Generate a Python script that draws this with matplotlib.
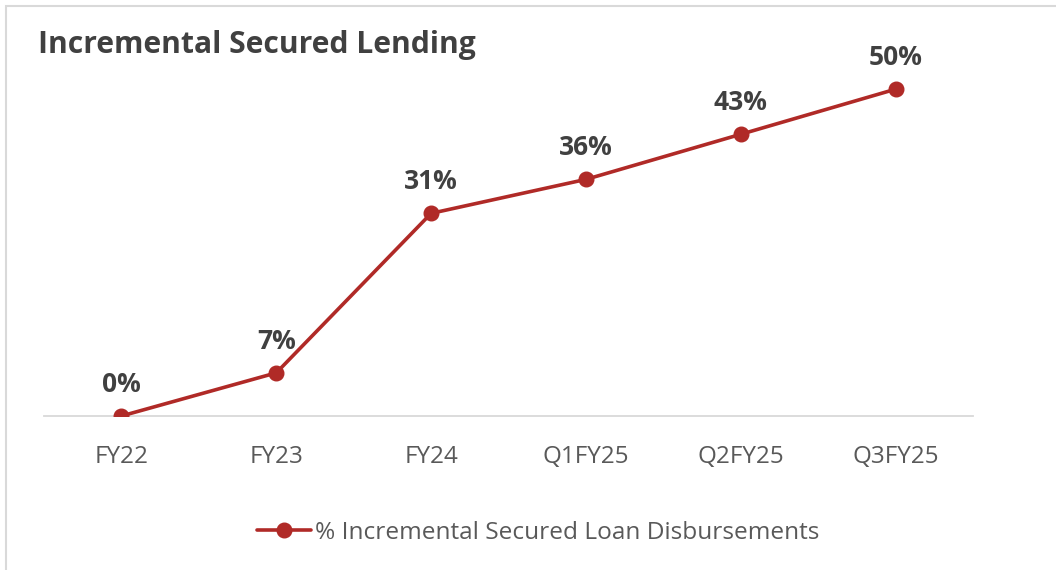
import matplotlib
matplotlib.use("Agg")
import matplotlib.pyplot as plt
from matplotlib.patches import Rectangle

# data
categories = ["FY22", "FY23", "FY24", "Q1FY25", "Q2FY25", "Q3FY25"]
secured_share = [0, 6.6, 31, 36.2, 43.1, 50]
series_name = "% Incremental Secured Loan Disbursements"
title = "Incremental Secured Lending"

RED = "#B02A27"
plt.rcParams["font.family"] = ["Open Sans", "DejaVu Sans"]

fig = plt.figure(figsize=(10.56, 5.70), dpi=100)
ax = fig.add_axes([0.0417, 0.2702, 0.8797, 0.688])

x = list(range(len(categories)))
ax.plot(x, secured_share, color=RED, lw=2.6, marker="o", ms=10.5,
        solid_capstyle="round", label=series_name, zorder=3)

for xi, v in zip(x, secured_share):
    ax.annotate(f"{v:.0f}%", (xi, v), xytext=(0, 13), textcoords="offset points",
                ha="center", va="bottom", fontsize=19, fontweight="bold",
                color="#404040")

ax.set_xlim(-0.5, len(categories) - 0.5)
ax.set_ylim(0, 60)
ax.set_xticks(x)
ax.set_xticklabels(categories, fontsize=17.5, color="#595959")
ax.tick_params(axis="x", length=0, pad=21)
ax.set_yticks([])
for side in ["top", "right", "left"]:
    ax.spines[side].set_visible(False)
ax.spines["bottom"].set_color("#D9D9D9")
ax.spines["bottom"].set_linewidth(1.3)
ax.set_facecolor("none")

fig.text(38 / 1056, 1 - 45 / 570, title, fontsize=21.6, fontweight="bold",
         color="#404040", ha="left", va="center")

leg = fig.legend(loc="center", bbox_to_anchor=(538 / 1056, 1 - 533 / 570),
                 frameon=False, fontsize=17.6, handlelength=2.2,
                 handletextpad=0.15)
for t in leg.get_texts():
    t.set_color("#595959")

# chart border (only top and left edges fall inside the crop)
fig.patches.append(Rectangle((6 / 1056, -0.1), 1.2, 1.1 - 6 / 570,
                             transform=fig.transFigure, fill=False,
                             edgecolor="#D9D9D9", lw=1.5, zorder=0))

fig.savefig("out.png", dpi=100)
